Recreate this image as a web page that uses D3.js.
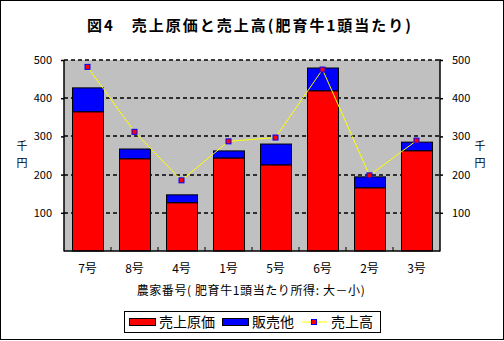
<!DOCTYPE html>
<html><head><meta charset="utf-8">
<script src="https://cdn.jsdelivr.net/npm/d3@7"></script>
<style>body{margin:0;background:#fff;} text{font-family:"Noto Sans CJK JP","Noto Sans",sans-serif;}</style>
</head><body><svg id="c" width="504" height="341"></svg>
<script>
const categories = ["7号","8号","4号","1号","5号","6号","2号","3号"];
const costValues = [364, 241, 126, 243, 225, 419, 165, 262];
const otherValues = [63, 26, 21, 19, 55, 60, 29, 23];
const salesValues = [482, 312, 185, 287, 297, 475, 198, 289];
const yTicks = [100, 200, 300, 400, 500];
const title = "図4　売上原価と売上高(肥育牛1頭当たり)";
const xTitle = "農家番号( 肥育牛1頭当たり所得: 大－小)";
const yTitle = "千円";
const legendLabels = ["売上原価", "販売他", "売上高"];

const svg = d3.select("#c");
svg.append("rect").attr("x",0.5).attr("y",0.5).attr("width",503).attr("height",339).attr("fill","#fff").attr("stroke","#000");

const L = 64, R = 440, T = 60, B = 251;
const x = d3.scaleBand().domain(categories).range([L, R]).paddingInner(16/47).paddingOuter(8/47);
const y = d3.scaleLinear().domain([0, 500]).range([B, T]);

svg.append("rect").attr("x",L).attr("y",T).attr("width",R-L).attr("height",B-T).attr("fill","#c0c0c0");

// gridlines
svg.append("g").selectAll("line").data(yTicks).join("line")
  .attr("x1",L).attr("x2",R).attr("y1",d=>Math.round(y(d))).attr("y2",d=>Math.round(y(d)))
  .attr("stroke","#000").attr("stroke-width",1.5).attr("stroke-dasharray","4,3");

// bars
const stack = categories.map((c,i)=>({c, a:costValues[i], b:otherValues[i]}));
svg.append("g").selectAll("rect").data(stack).join("rect")
  .attr("x",d=>x(d.c)+0.5).attr("width",x.bandwidth())
  .attr("y",d=>y(d.a+d.b)).attr("height",d=>y(d.a)-y(d.a+d.b))
  .attr("fill","#0000ff").attr("stroke","#000").attr("stroke-width",1);
svg.append("g").selectAll("rect").data(stack).join("rect")
  .attr("x",d=>x(d.c)+0.5).attr("width",x.bandwidth())
  .attr("y",d=>y(d.a)).attr("height",d=>B-y(d.a))
  .attr("fill","#ff0000").attr("stroke","#000").attr("stroke-width",1);

// axes
const fs = 11;
const left = svg.append("g").attr("transform",`translate(${L},0)`)
  .call(d3.axisLeft(y).tickValues(yTicks).tickSize(3).tickPadding(9));
const right = svg.append("g").attr("transform",`translate(${R},0)`)
  .call(d3.axisRight(y).tickValues(yTicks).tickSize(3).tickPadding(9));
[left,right].forEach(g=>{
  g.select(".domain").remove();
  g.selectAll("line").attr("stroke","#000").attr("stroke-width",1.5);
  g.selectAll("text").attr("font-size",fs).attr("fill","#000").attr("font-family","'Liberation Sans',sans-serif");
});
const bottom = svg.append("g").attr("transform",`translate(0,${B})`)
  .call(d3.axisBottom(x).tickSize(0).tickPadding(13));
bottom.select(".domain").remove();
bottom.selectAll("text").attr("font-size",12).attr("fill","#000");
// band boundary ticks
const bounds = d3.range(1, categories.length).map(i => L + i*(R-L)/categories.length);
svg.append("g").selectAll("line").data(bounds).join("line")
  .attr("x1",d=>d).attr("x2",d=>d).attr("y1",B).attr("y2",B-4).attr("stroke","#000");

// frame lines
svg.append("line").attr("x1",L).attr("x2",L).attr("y1",T).attr("y2",B+0.5).attr("stroke","#000").attr("stroke-width",1.5);
svg.append("line").attr("x1",R).attr("x2",R).attr("y1",T-1).attr("y2",B+0.5).attr("stroke","#000").attr("stroke-width",1.5);
svg.append("line").attr("x1",L).attr("x2",R).attr("y1",B).attr("y2",B).attr("stroke","#000").attr("stroke-width",1.5);

// line series
const pts = categories.map((c,i)=>[x(c)+x.bandwidth()/2, y(salesValues[i])]);
svg.append("path").attr("d",d3.line()(pts)).attr("fill","none").attr("stroke","#ffff00").attr("stroke-width",1);
svg.append("g").selectAll("rect").data(pts).join("rect")
  .attr("x",d=>d[0]-2.5).attr("y",d=>d[1]-2.5).attr("width",5).attr("height",5)
  .attr("fill","#ff0000").attr("stroke","#0000ff").attr("stroke-width",1);

// titles
svg.append("text").attr("x",250).attr("y",31).attr("text-anchor","middle")
  .attr("font-size",15).attr("font-weight","bold").attr("letter-spacing",2).attr("fill","#000").text(title);
svg.append("text").attr("x",251).attr("y",295).attr("text-anchor","middle").attr("font-size",12)
  .attr("letter-spacing",0.6).attr("fill","#000").text(xTitle);
[22, 480].forEach(px=>{
  yTitle.split("").forEach((ch,i)=>{
    svg.append("text").attr("x",px).attr("y",150+i*17).attr("text-anchor","middle")
      .attr("font-size",11).attr("fill","#000").text(ch);
  });
});

// legend
const lg = svg.append("g");
lg.append("rect").attr("x",124.5).attr("y",311.5).attr("width",256).attr("height",21).attr("fill","#fff").attr("stroke","#000");
lg.append("rect").attr("x",129.5).attr("y",318.5).attr("width",26).attr("height",7).attr("fill","#ff0000").attr("stroke","#000");
lg.append("text").attr("x",159).attr("y",327).attr("font-size",14).attr("fill","#000").text(legendLabels[0]);
lg.append("rect").attr("x",222.5).attr("y",318.5).attr("width",26).attr("height",7).attr("fill","#0000ff").attr("stroke","#000");
lg.append("text").attr("x",252).attr("y",327).attr("font-size",14).attr("fill","#000").text(legendLabels[1]);
lg.append("line").attr("x1",301).attr("x2",327).attr("y1",322).attr("y2",322).attr("stroke","#ffff00");
lg.append("rect").attr("x",311.5).attr("y",319.5).attr("width",5).attr("height",5).attr("fill","#ff0000").attr("stroke","#0000ff");
lg.append("text").attr("x",331).attr("y",327).attr("font-size",14).attr("fill","#000").text(legendLabels[2]);
</script></body></html>
